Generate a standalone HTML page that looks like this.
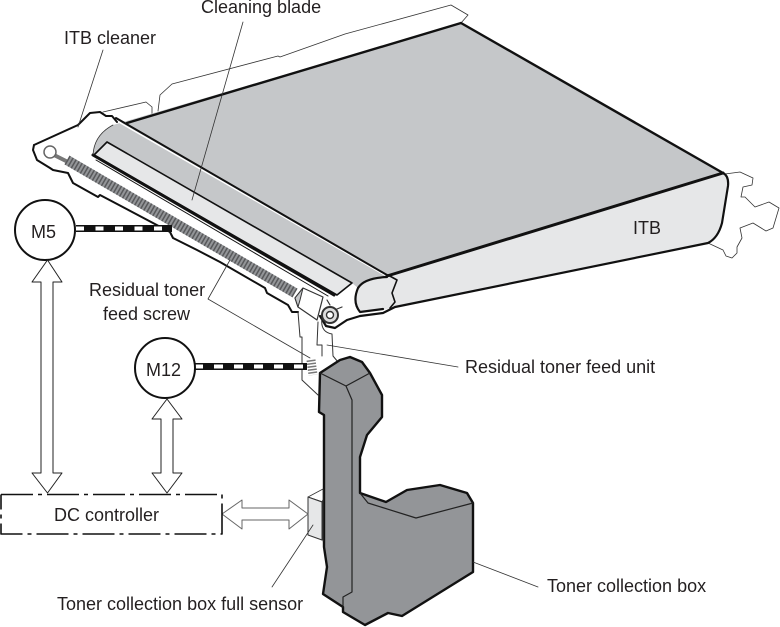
<!DOCTYPE html>
<html><head><meta charset="utf-8"><style>
html,body{margin:0;padding:0;background:#fff}
svg{display:block}
text{font-family:"Liberation Sans",sans-serif;font-size:18px;fill:#231f20}
</style></head><body>
<svg width="780" height="627" viewBox="0 0 780 627" xmlns="http://www.w3.org/2000/svg">
<g fill="none" stroke-linejoin="round" stroke-linecap="round">
<!-- back flanges -->
<path d="M103,112 L146,102 L152,107 L152,115 M158,111 L160,95 L172,84 L278,56 L280,57 L345,34 L451,5 L468,15 L461,23" stroke="#333" stroke-width=".8"/>
<!-- right flange -->
<path d="M725,174 L740,172 L753,178 L752,185 L743,187 L741,197 L745,197 L755,207 L769,202 L779,208 L773,228 L766,231 L753,223 L740,228 L742,238 L737,247 L737,253 L732,258 L726,256 L723,250 L708,243" stroke="#333" stroke-width=".8"/>
<!-- belt front face -->
<path d="M387,276 L723,173 Q729,176 728,186 L722,223 Q718,238 708,243 L395,307 L383,310 L360,312 Q352,302 358,288 Q364,278 387,276Z" fill="#e6e7e8"/>
<!-- belt top -->
<path d="M113,125 L461,23 L723,173 L387,276 Q364,278 358,288 L352,283 L107,142 L93,155 Q94,135 113,125Z" fill="#c5c7c9"/>
<!-- blade -->
<path d="M107,142 L352,283 L337,295 L94,155Z" fill="#e6e7e8" stroke="#111" stroke-width="1.6"/>
<path d="M93,155 L334,295" stroke="#111" stroke-width="3"/>
<path d="M96,160 L328,296" stroke="#111" stroke-width="1"/>
<!-- belt edges -->
<path d="M127,123 L461,23 L723,173" stroke="#111" stroke-width="2.4"/>
<path d="M93,155 Q94,135 113,125" stroke="#333" stroke-width=".8"/>
<path d="M117,121 L388,277" stroke="#fff" stroke-width="1.4"/>
<path d="M116,118 L387,275" stroke="#111" stroke-width="2"/>
<path d="M387,276 L723,173" stroke="#111" stroke-width="3"/>
<path d="M723,173 Q729,176 728,186 L722,223 Q718,238 708,243 L395,307 L383,313 L360,316 L347,320 L335,328 L326,326 L320,316" stroke="#111" stroke-width="2.2"/>
<path d="M387,277 Q364,278 358,288 Q352,302 360,312 L383,309" stroke="#111" stroke-width="2.2"/>
<path d="M388,275 L397,280 L392,293 L395,302 L390,308" stroke="#111" stroke-width="1.6"/>
<!-- cleaner outline -->
<path d="M34,145 L78,125 L90,113 L100,112 L106,116 L112,116 L117,122" stroke="#111" stroke-width="2"/>
<path d="M34,145 L33,150 L37,160 L50,168 L53,170 L68,173 L73,183 L98,197 L100,195 L170,232 L173,238 L197,250 L220,262 L265,288 L267,293 L288,305 L292,312 L298,312" stroke="#111" stroke-width="2"/>
<!-- screw -->
<path d="M52,154 L68,162" stroke="#777" stroke-width="4"/>
<circle cx="50" cy="152" r="6" fill="#fff" stroke="#666" stroke-width="1.5"/>
<path d="M67,160 L295,293" stroke="#939598" stroke-width="10" stroke-linecap="butt"/>
<path d="M67,160 L295,293" stroke="#58595b" stroke-width="10" stroke-dasharray="1.5 2" stroke-linecap="butt"/>
<!-- feed unit -->
<path d="M298,312 L300,337 L302,337 L302,380 L318,395 M318,322 L317,345 L322,345 L322,356 M322,318 Q320,332 332,334 L333,356 L338,362" stroke="#333" stroke-width="1"/>
<path d="M295,298 L303,288 L323,297 L317,320 L298,307Z" fill="#fff" stroke="#333" stroke-width="1.2"/>
<path d="M295,298 L303,288 L300,300 L298,307Z" fill="#c5c7c9" stroke="#333" stroke-width="1"/>
<circle cx="330" cy="315" r="8" fill="#ddd" stroke="#333" stroke-width="2"/>
<circle cx="330" cy="315" r="3.500" fill="#fff" stroke="#333" stroke-width="1.400"/>
<path d="M337,309 L342,307 M327,300 L330,305" stroke="#333" stroke-width="1.200"/>
<path d="M311,360 L313,375" stroke="#777" stroke-width="9" stroke-dasharray="1.500 1.500" stroke-linecap="butt"/>
<!-- toner box -->
<path d="M320,373 L340,360 L350,357 L362,362 L370,373 L382,395 L382,417 L367,435 L360,457 L360,493 L386,502 L407,490 L440,485 L467,493 L473,503 L473,572 L402,616 L388,613 L365,625 L343,612 L343,607 L323,594 L327,567 L324,547 L324,415 L319,412Z" fill="#939598" stroke="#111" stroke-width="2.400"/>
<path d="M320,373 L346,386 L370,373 M346,386 L352,400 L352,592 L343,597 L343,607 M360,493 L368,503 L416,518 L473,503" stroke="#222" stroke-width="1.200"/>
<!-- sensor -->
<path d="M308,497 L323,489 L323,502Z" fill="#fff" stroke="#333" stroke-width=".8"/>
<path d="M308,497 L322,502 L322,540 L308,535Z" fill="#e6e7e8" stroke="#333" stroke-width="1"/>
<path d="M322,502 L323,500 L323,541" stroke="#333" stroke-width="1"/>
<!-- leaders -->
<path d="M103,50 L78,127 M243,22 L192,200 M230,260 L208,299 L310,358 M327,345 L458,367 M473,562 L538,587 M313,525 L272,587" stroke="#333" stroke-width=".8"/>
<!-- dashed drive bars -->
<path d="M76,228.500 L172,228.500" stroke="#111" stroke-width="7" stroke-linecap="butt"/>
<path d="M76,228.500 L165,228.500" stroke="#fff" stroke-width="4" stroke-dasharray="8 11.500" stroke-linecap="butt"/>
<path d="M194,366.500 L307,366.500" stroke="#111" stroke-width="7" stroke-linecap="butt"/>
<path d="M194,366.500 L303,366.500" stroke="#fff" stroke-width="4" stroke-dasharray="9 11" stroke-linecap="butt"/>
<circle cx="45" cy="230" r="30" fill="#fff" stroke="#111" stroke-width="2"/>
<circle cx="165" cy="368" r="30" fill="#fff" stroke="#111" stroke-width="2"/>
<!-- arrows -->
<path d="M47.500,260 L62,282 L53,282 L53,473 L62,473 L47.500,493 L32,473 L41,473 L41,282 L32,282Z" fill="#fff" stroke="#222" stroke-width="1"/>
<path d="M167,399 L182,419 L173,419 L173,473 L182,473 L167,493 L152,473 L161,473 L161,419 L152,419Z" fill="#fff" stroke="#222" stroke-width="1"/>
<path d="M222,514 L242,500 L242,508 L289,508 L289,500 L308,514 L289,529 L289,520 L242,520 L242,529Z" fill="#fff" stroke="#666" stroke-width="1"/>
<!-- DC controller -->
<path d="M1,494.500 L222,494.500 L222,534 L1,534 L1,494.500" stroke="#111" stroke-width="1.600" stroke-dasharray="32 5 4 5" stroke-linecap="butt"/>
</g>
<text x="64" y="44">ITB cleaner</text>
<text x="201" y="13">Cleaning blade</text>
<text x="633" y="234">ITB</text>
<text x="31" y="238">M5</text>
<text x="146" y="376">M12</text>
<text x="89" y="296">Residual toner</text>
<text x="103" y="320">feed screw</text>
<text x="465" y="373">Residual toner feed unit</text>
<text x="54" y="521">DC controller</text>
<text x="547" y="592">Toner collection box</text>
<text x="57" y="610">Toner collection box full sensor</text>
</svg>
</body></html>
